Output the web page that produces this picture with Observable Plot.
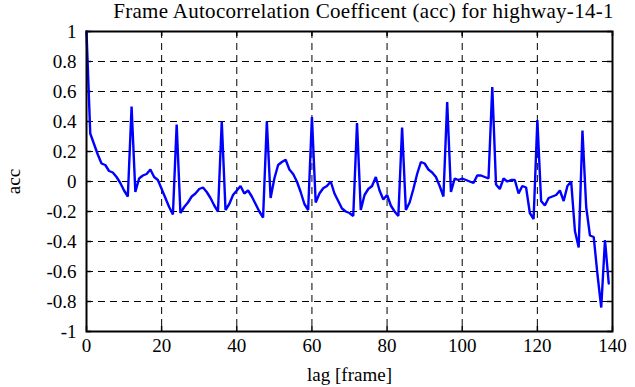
<!DOCTYPE html>
<html>
<head>
<meta charset="utf-8">
<script src="https://cdn.jsdelivr.net/npm/d3@7"></script>
<script src="https://cdn.jsdelivr.net/npm/@observablehq/plot@0.6"></script>
<style>
  html, body { margin: 0; padding: 0; background: #fff; }
  svg text { font-family: 'Liberation Serif', 'DejaVu Serif', serif !important; font-variant-numeric: normal !important; }
  .ttl text { letter-spacing: 0.3px; }
</style>
</head>
<body>
<div id="chart"></div>
<script>
const titleText = "Frame Autocorrelation Coefficent (acc) for highway-14-1";
const xLabel = "lag [frame]";
const yLabel = "acc";
const xTicks = [0, 20, 40, 60, 80, 100, 120, 140];
const yTicks = [-1, -0.8, -0.6, -0.4, -0.2, 0, 0.2, 0.4, 0.6, 0.8, 1];

// acc values for lag 0..139
const acc = [
  1.00, 0.32, 0.25, 0.18, 0.12, 0.11, 0.07, 0.06, 0.03, -0.01,
  -0.06, -0.10, 0.50, -0.07, 0.02, 0.04, 0.05, 0.08, 0.03, 0.01,
  -0.05, -0.11, -0.17, -0.22, 0.38, -0.21, -0.17, -0.14, -0.10, -0.08,
  -0.05, -0.04, -0.07, -0.11, -0.16, -0.20, 0.40, -0.19, -0.15, -0.09,
  -0.06, -0.03, -0.08, -0.06, -0.10, -0.15, -0.20, -0.24, 0.40, -0.11,
  0.02, 0.11, 0.13, 0.145, 0.08, 0.05, 0.00, -0.07, -0.15, -0.19,
  0.43, -0.14, -0.08, -0.045, -0.03, 0.00, -0.08, -0.13, -0.18, -0.20,
  -0.21, -0.23, 0.39, -0.19, -0.09, -0.05, -0.03, 0.03, -0.06, -0.12,
  -0.09, -0.16, -0.20, -0.23, 0.36, -0.19, -0.14, -0.05, 0.05, 0.13,
  0.12, 0.08, 0.06, 0.03, -0.03, -0.10, 0.53, -0.07, 0.02, 0.01,
  0.02, 0.01, 0.00, -0.01, 0.04, 0.04, 0.03, 0.02, 0.63, -0.02,
  -0.05, 0.02, 0.00, 0.01, 0.01, -0.08, -0.03, -0.04, -0.21, -0.25,
  0.41, -0.13, -0.16, -0.11, -0.10, -0.09, -0.06, -0.13, -0.03, 0.00,
  -0.33, -0.44, 0.34, -0.17, -0.36, -0.37, -0.62, -0.84, -0.39, -0.68
];
const lags = acc.map((_, i) => i);
const data = lags.map((l, i) => ({lag: l, acc: acc[i]}));

const W = 635, H = 387;
const mL = 86, mR = 23, mT = 31, mB = 56;
const plotW = W - mL - mR, plotH = H - mT - mB;
const tickLen = 5;
const serif = "'Liberation Serif', 'DejaVu Serif', serif";

const chart = Plot.plot({
  width: W,
  height: H,
  marginLeft: mL,
  marginRight: mR,
  marginTop: mT,
  marginBottom: mB,
  style: {fontFamily: serif, fontSize: "19px", color: "black", background: "white"},
  x: {domain: [0, 140]},
  y: {domain: [-1, 1]},
  marks: [
    Plot.gridX(xTicks.slice(1, -1), {stroke: "black", strokeOpacity: 1, strokeWidth: 1, strokeDasharray: "7,5"}),
    Plot.gridY(yTicks.slice(1, -1), {stroke: "black", strokeOpacity: 1, strokeWidth: 1, strokeDasharray: "7,5"}),
    Plot.ruleX(xTicks, {stroke: "black", strokeWidth: 1.5, insetTop: plotH - tickLen}),
    Plot.ruleX(xTicks, {stroke: "black", strokeWidth: 1.5, insetBottom: plotH - tickLen}),
    Plot.ruleY(yTicks, {stroke: "black", strokeWidth: 1.5, insetRight: plotW - tickLen}),
    Plot.ruleY(yTicks, {stroke: "black", strokeWidth: 1.5, insetLeft: plotW - tickLen}),
    Plot.axisX(xTicks, {tickSize: 0, tickPadding: 7, tickFormat: d => String(d), label: xLabel, labelAnchor: "center", labelArrow: "none", labelOffset: 49, fontSize: 19, fontFamily: serif}),
    Plot.axisY(yTicks, {tickSize: 0, tickPadding: 10, tickFormat: d => String(d), label: yLabel, labelAnchor: "center", labelArrow: "none", labelOffset: 80, fontSize: 19, fontFamily: serif}),
    Plot.line(data, {x: "lag", y: "acc", stroke: "#0000ff", strokeWidth: 2.4, strokeLinejoin: "miter"}),
    Plot.frame({stroke: "black", strokeWidth: 2}),
    Plot.text([titleText], {frameAnchor: "top", lineAnchor: "middle", dy: -20, dx: 14, fontSize: 21, fontFamily: serif, fill: "black", className: "ttl"})
  ]
});
document.getElementById("chart").appendChild(chart);
</script>
</body>
</html>
